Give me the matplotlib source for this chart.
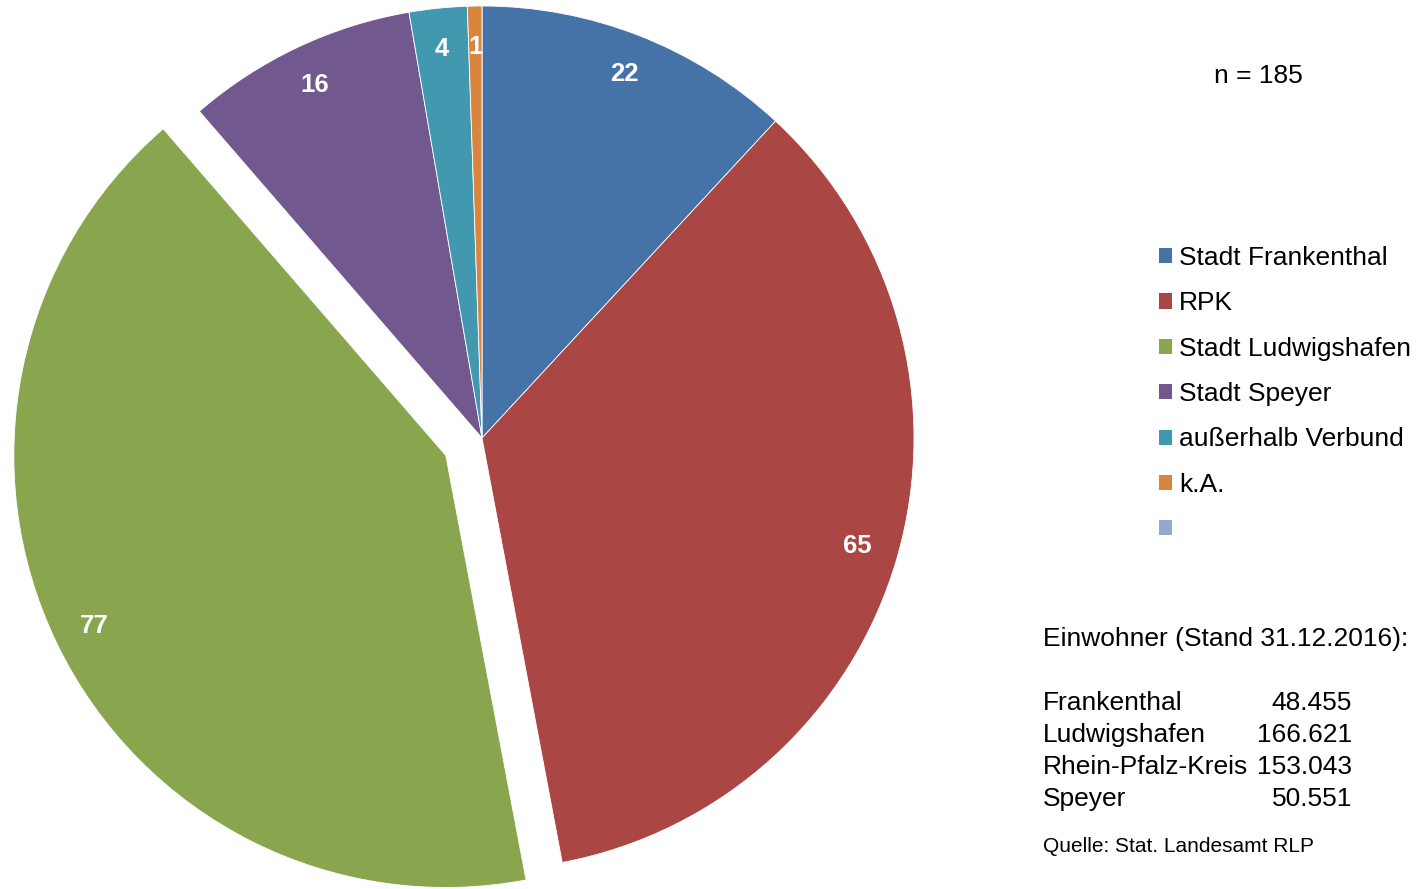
import matplotlib
matplotlib.use('Agg')
from matplotlib import pyplot as plt
from matplotlib.patches import Patch

plt.rcParams['font.family'] = ['Liberation Sans', 'DejaVu Sans']

categories = ['Stadt Frankenthal', 'RPK', 'Stadt Ludwigshafen', 'Stadt Speyer',
              'außerhalb Verbund', 'k.A.']
values = [22, 65, 77, 16, 4, 1]
colors = ['#4572A7', '#AA4643', '#89A54E', '#71588F', '#4198AF', '#DB843D']
extra_color = '#93A9CF'
explode = [0, 0, 0.093, 0, 0, 0]

pop_names = ['Frankenthal', 'Ludwigshafen', 'Rhein-Pfalz-Kreis', 'Speyer']
pop_values = ['48.455', '166.621', '153.043', '50.551']

total = sum(values)
W, H = 1423, 889

fig = plt.figure(figsize=(W / 100, H / 100), dpi=100)
cx, cy, r = 482, 889 - 438, 432
ax = fig.add_axes([(cx - r) / W, (cy - r) / H, 2 * r / W, 2 * r / H])

wedges, texts, autotexts = ax.pie(
    values, colors=colors, explode=explode, startangle=90, counterclock=False,
    radius=1, autopct=lambda p: '%d' % round(p * total / 100), pctdistance=0.905,
    wedgeprops=dict(edgecolor='white', linewidth=0.6),
    textprops=dict(color='white', fontsize=18.5, fontweight='bold'))
for w in wedges:
    w.set_clip_on(False)
ax.set_xlim(-1, 1)
ax.set_ylim(-1, 1)
ax.set_aspect('equal')
ax.axis('off')

handles = [Patch(facecolor=c) for c in colors] + [Patch(facecolor=extra_color)]
labels = categories + ['']
fig.legend(handles, labels, loc='upper left', bbox_to_anchor=(1159 / W, 1 - 246 / H),
           frameon=False, fontsize=19, handlelength=0.5, handleheight=0.5,
           handletextpad=0.27, labelspacing=0.81, borderaxespad=0, borderpad=0)

fig.text(1258 / W, 1 - 76 / H, 'n = 185', fontsize=19, ha='center', va='center')

fig.text(1043 / W, 1 - 639 / H, 'Einwohner (Stand 31.12.2016):', fontsize=19,
         ha='left', va='center')
for i, (name, val) in enumerate(zip(pop_names, pop_values)):
    y = 1 - (703 + 32 * i) / H
    fig.text(1043 / W, y, name, fontsize=19, ha='left', va='center')
    fig.text(1352 / W, y, val, fontsize=19, ha='right', va='center')
fig.text(1043 / W, 1 - 846 / H, 'Quelle: Stat. Landesamt RLP', fontsize=15,
         ha='left', va='center')

fig.savefig('out.png', dpi=100)
